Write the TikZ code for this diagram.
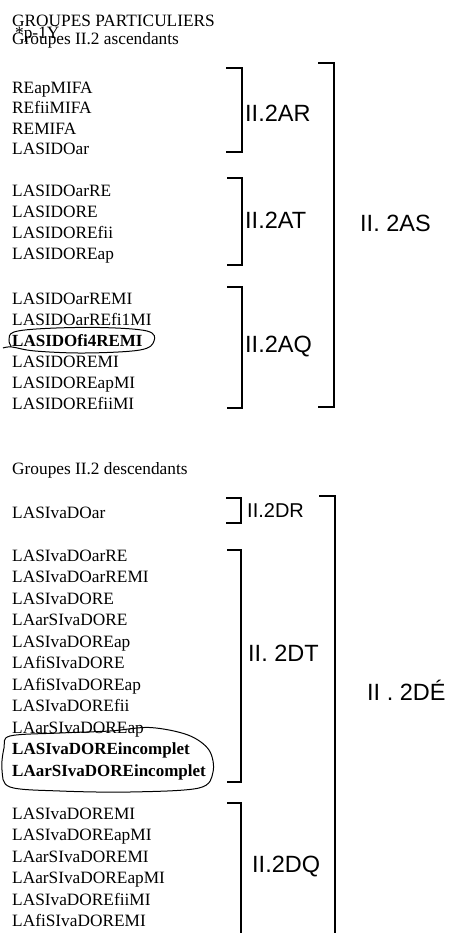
\documentclass[tikz,border=0pt]{standalone}
\usepackage{fontspec}
\setmainfont{Liberation Serif}
\newfontfamily\handfont{Liberation Sans}
\tikzset{
  item/.style={anchor=base west, inner sep=0pt, font=\fontsize{17.3}{20}\selectfont},
  bolditem/.style={anchor=base west, inner sep=0pt, font=\fontsize{17}{20}\selectfont\bfseries},
  hand/.style={anchor=base west, inner sep=0pt, font=\handfont\fontsize{23.5}{25}\selectfont},
  handsmall/.style={anchor=base west, inner sep=0pt, font=\handfont\fontsize{20}{22}\selectfont},
  brk/.style={line width=1.1pt, line join=miter},
  ring/.style={line width=1pt}
}
\begin{document}
\begin{tikzpicture}[x=1pt,y=-1pt]
\useasboundingbox (0,0) rectangle (457,933);

% titles
\node[item] (title) at (12,27) {GROUPES PARTICULIERS};
\node[item] (stray) at (15,39) {*p-1Y};
\node[item] (asc) at (12,44.5) {Groupes II.2 ascendants};

% group AR
\foreach \t [count=\i] in {REapMIFA,REfiiMIFA,REMIFA,LASIDOar}
  \node[item] (ar\i) at (12,{93.5+20.5*(\i-1)}) {\t};
% group AT
\foreach \t [count=\i] in {LASIDOarRE,LASIDORE,LASIDOREfii,LASIDOREap}
  \node[item] (at\i) at (12,{196.5+21*(\i-1)}) {\t};
% group AQ
\node[item] (aq1) at (12,304) {LASIDOarREMI};
\node[item] (aq2) at (12,325) {LASIDOarREfi1MI};
\node[bolditem] (aq3) at (12,346) {LASIDOfi4REMI};
\node[item] (aq4) at (12,367) {LASIDOREMI};
\node[item] (aq5) at (12,388) {LASIDOREapMI};
\node[item] (aq6) at (12,409) {LASIDOREfiiMI};

% descendants
\node[item] (desc) at (12,474) {Groupes II.2 descendants};
\node[item] (dr1) at (12,518) {LASIvaDOar};
\foreach \t [count=\i] in {LASIvaDOarRE,LASIvaDOarREMI,LASIvaDORE,LAarSIvaDORE,LASIvaDOREap,LAfiSIvaDORE,LAfiSIvaDOREap,LASIvaDOREfii,LAarSIvaDOREap}
  \node[item] (dt\i) at (12,{561+21.5*(\i-1)}) {\t};
\node[bolditem] (dt10) at (12,754.5) {LASIvaDOREincomplet};
\node[bolditem] (dt11) at (12,776) {LAarSIvaDOREincomplet};
\foreach \t [count=\i] in {LASIvaDOREMI,LASIvaDOREapMI,LAarSIvaDOREMI,LAarSIvaDOREapMI,LASIvaDOREfiiMI,LAfiSIvaDOREMI}
  \node[item] (dq\i) at (12,{819+21.5*(\i-1)}) {\t};

% hand-drawn rings
\draw[ring] plot[smooth, tension=0.6] coordinates {(3,348) (12,347) (35,351) (85,353) (140,350) (154,341) (147,331) (100,327.5) (45,328.5) (14,332) (9,340) (11,346)};
\draw[ring] plot[smooth cycle, tension=0.55] coordinates {(10,736) (60,733) (110,731) (150,727.5) (188,735) (209,750) (213,772) (199,788) (130,792) (60,791) (10,787) (2,770) (4,748)};

% brackets ascendants
\coordinate (arT) at (226,68);  \coordinate (arB) at (226,152);
\coordinate (atT) at (227,178); \coordinate (atB) at (227,265);
\coordinate (aqT) at (227,287); \coordinate (aqB) at (227,408);
\coordinate (asT) at (318,63);  \coordinate (asB) at (318,407);
\draw[brk] (arT) -- ++(16,0) |- (arB);
\draw[brk] (atT) -- ++(15,0) |- (atB);
\draw[brk] (aqT) -- ++(15,0) |- (aqB);
\draw[brk] (asT) -- ++(16,0) |- (asB);

\node[hand] (lAR) at (245,122) {II.2AR};
\node[hand] (lAT) at (245,229) {II.2AT};
\node[hand] (lAQ) at (245,352) {II.2AQ};
\node[hand] (lAS) at (360,231) {II. 2AS};

% brackets descendants
\coordinate (drT) at (226,498); \coordinate (drB) at (226,523);
\coordinate (dtT) at (227,550); \coordinate (dtB) at (227,782);
\coordinate (dqT) at (227,803); \coordinate (dqE) at (241,933);
\coordinate (deT) at (319,496); \coordinate (deE) at (335,933);
\draw[brk] (drT) -- ++(15,0) |- (drB);
\draw[brk] (dtT) -- ++(14,0) |- (dtB);
\draw[brk] (dqT) -| (dqE);
\draw[brk] (deT) -| (deE);

\node[handsmall] (lDR) at (247,517) {II.2DR};
\node[hand] (lDT) at (248,661) {II. 2DT};
\node[hand] (lDQ) at (252,872) {II.2DQ};
\node[hand] (lDE) at (367,700) {II . 2DÉ};
\end{tikzpicture}
\end{document}
